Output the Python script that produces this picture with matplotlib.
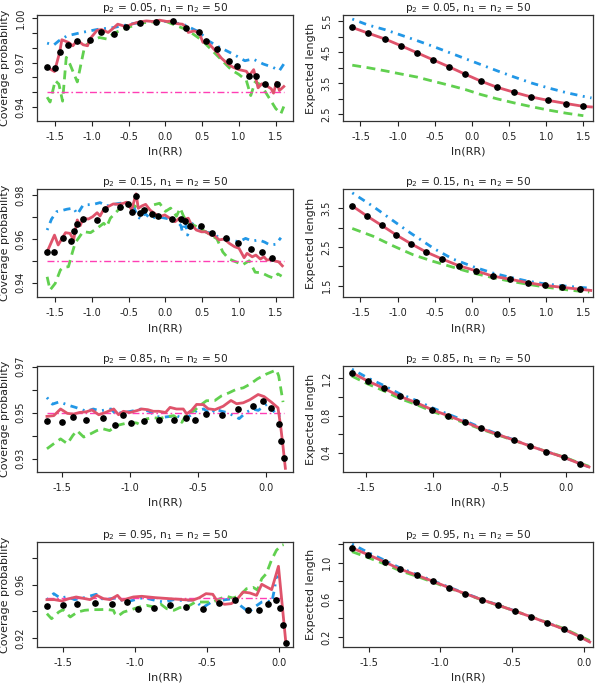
import matplotlib
matplotlib.use("Agg")
import matplotlib.pyplot as plt

plt.rcParams['font.family'] = ['DejaVu Sans']
plt.rcParams['axes.unicode_minus'] = False
plt.rcParams['mathtext.default'] = 'regular'

RED = "#DF536B"
GREEN = "#61D04F"
BLUE = "#2297E6"
PINK = "#FF3EB5"

# ---------------- p2 = 0.05 : coverage ----------------
cov05_red_x = [-1.61,-1.51,-1.44,-1.41,-1.32,-1.26,-1.20,-1.12,-1.06,-1.03,-0.93,-0.87,-0.78,-0.71,-0.65,
               -0.60,-0.54,-0.46,-0.39,-0.32,-0.26,-0.17,-0.08,0.02,0.11,0.15,0.23,0.29,0.31,0.39,
               0.46,0.51,0.56,0.63,0.70,0.76,0.85,0.92,1.00,1.10,1.14,1.20,1.26,1.31,1.37,
               1.44,1.47,1.51,1.55,1.61]
cov05_red_y = [0.9669,0.9640,0.9769,0.9855,0.9837,0.9814,0.9852,0.9821,0.9814,0.9859,0.9919,0.9924,0.9904,0.9933,0.9960,
               0.9953,0.9942,0.9960,0.9971,0.9978,0.9982,0.9978,0.9987,0.9978,0.9982,0.9964,0.9960,0.9937,0.9904,0.9915,
               0.9899,0.9837,0.9848,0.9807,0.9769,0.9731,0.9691,0.9669,0.9653,0.9642,0.9613,0.9653,0.9530,0.9557,0.9546,
               0.9523,0.9494,0.9568,0.9512,0.9539]
cov05_dot_x = [-1.61,-1.50,-1.44,-1.32,-1.20,-1.03,-0.88,-0.70,-0.54,-0.35,-0.13,0.10,0.28,0.46,0.55,0.70,0.86,0.97,1.14,1.23,1.35,1.52]
cov05_dot_y = [0.9669,0.9662,0.9769,0.9819,0.9848,0.9854,0.9904,0.9893,0.9944,0.9966,0.9978,0.9982,0.9937,0.9910,0.9848,0.9792,0.9713,0.9680,0.9613,0.9613,0.9557,0.9557]
cov05_blue_x = [-1.61,-1.52,-1.45,-1.34,-1.14,-0.91,-0.71,-0.44,-0.21,0.02,0.24,0.47,0.58,0.74,0.92,1.08,1.19,1.33,1.46,1.55,1.61]
cov05_blue_y = [0.9832,0.9819,0.9848,0.9881,0.9904,0.9926,0.9937,0.9964,0.9978,0.9978,0.9960,0.9904,0.9848,0.9803,0.9758,0.9713,0.9725,0.9691,0.9669,0.9646,0.9691]
cov05_green_x = [-1.61,-1.57,-1.50,-1.45,-1.40,-1.35,-1.30,-1.20,-1.10,-1.00,-0.90,-0.80,-0.70,-0.50,-0.30,
                 0.00,0.30,0.50,0.60,0.70,0.80,0.90,1.00,1.10,1.16,1.22,1.30,1.40,1.50,1.57,1.61]
cov05_green_y = [0.9467,0.9434,0.9579,0.9555,0.9440,0.9736,0.9690,0.9570,0.9810,0.9850,0.9870,0.9860,0.9900,0.9940,0.9970,
                 0.9980,0.9920,0.9850,0.9800,0.9750,0.9700,0.9650,0.9620,0.9580,0.9478,0.9570,0.9550,0.9470,0.9390,0.9355,0.9404]

# ---------------- p2 = 0.05 : expected length ----------------
len05_dot_x = [-1.61,-1.40,-1.17,-0.96,-0.74,-0.53,-0.31,-0.09,0.12,0.34,0.57,0.80,1.03,1.27,1.50]
len05_dot_y = [5.29,5.11,4.92,4.71,4.48,4.26,4.03,3.79,3.57,3.37,3.21,3.06,2.95,2.85,2.76]
len05_red_x = [-1.61,-1.40,-1.17,-0.96,-0.74,-0.53,-0.31,-0.09,0.12,0.34,0.57,0.80,1.03,1.27,1.50,1.61]
len05_red_y = [5.29,5.11,4.92,4.71,4.48,4.26,4.03,3.79,3.57,3.37,3.21,3.06,2.95,2.85,2.76,2.74]
len05_blue_x = [-1.61,-1.40,-1.17,-0.96,-0.74,-0.53,-0.31,-0.09,0.12,0.34,0.57,0.80,1.03,1.27,1.50,1.61]
len05_blue_y = [5.56,5.37,5.22,5.05,4.87,4.69,4.49,4.29,4.10,3.90,3.70,3.51,3.35,3.20,3.08,3.03]
len05_green_x = [-1.61,-1.40,-1.17,-0.96,-0.74,-0.53,-0.31,-0.09,0.12,0.34,0.57,0.80,1.03,1.27,1.50]
len05_green_y = [4.08,4.00,3.90,3.80,3.70,3.57,3.44,3.30,3.14,3.00,2.87,2.75,2.64,2.54,2.46]

# ---------------- p2 = 0.15 : coverage ----------------
cov15_red_x = [-1.61,-1.51,-1.46,-1.36,-1.30,-1.25,-1.20,-1.16,-1.12,-1.05,-0.99,-0.93,-0.89,-0.84,-0.78,
               -0.71,-0.64,-0.57,-0.53,-0.46,-0.40,-0.37,-0.32,-0.27,-0.21,-0.15,-0.08,-0.01,0.06,0.13,
               0.19,0.24,0.31,0.35,0.42,0.49,0.55,0.62,0.67,0.73,0.80,0.87,0.94,1.00,1.07,
               1.11,1.18,1.23,1.29,1.34,1.38,1.45,1.49,1.54,1.59]
cov15_red_y = [0.9541,0.9617,0.9572,0.9628,0.9625,0.9595,0.9686,0.9660,0.9694,0.9690,0.9701,0.9719,0.9704,0.9735,0.9747,
               0.9759,0.9757,0.9762,0.9767,0.9732,0.9805,0.9739,0.9750,0.9757,0.9731,0.9716,0.9701,0.9709,0.9694,0.9678,
               0.9694,0.9686,0.9694,0.9666,0.9640,0.9632,0.9632,0.9617,0.9614,0.9595,0.9599,0.9579,0.9564,0.9557,0.9514,
               0.9534,0.9518,0.9526,0.9508,0.9518,0.9503,0.9508,0.9499,0.9495,0.9477]
cov15_dot_x = [-1.61,-1.51,-1.40,-1.29,-1.24,-1.20,-1.12,-0.93,-0.82,-0.62,-0.51,-0.45,-0.40,-0.34,-0.29,
               -0.19,-0.10,0.09,0.21,0.27,0.34,0.49,0.63,0.82,0.99,1.17,1.32,1.45]
cov15_dot_y = [0.9541,0.9541,0.9605,0.9590,0.9636,0.9666,0.9689,0.9686,0.9736,0.9747,0.9759,0.9722,0.9795,0.9719,0.9730,
               0.9713,0.9705,0.9690,0.9690,0.9681,0.9660,0.9660,0.9625,0.9605,0.9579,0.9552,0.9541,0.9511]
cov15_blue_x = [-1.61,-1.55,-1.48,-1.42,-1.34,-1.25,-1.20,-1.12,-0.98,-0.89,-0.80,-0.66,-0.55,-0.44,-0.38,
                -0.33,-0.28,-0.21,-0.10,0.00,0.10,0.18,0.21,0.23,0.27,0.30,0.36,0.45,0.56,0.65,
                0.74,0.86,1.00,1.09,1.18,1.27,1.35,1.42,1.50,1.57]
cov15_blue_y = [0.9640,0.9690,0.9724,0.9728,0.9735,0.9740,0.9712,0.9754,0.9757,0.9765,0.9750,0.9760,0.9765,0.9754,0.9700,
                0.9690,0.9716,0.9694,0.9700,0.9694,0.9686,0.9671,0.9660,0.9632,0.9680,0.9617,0.9670,0.9650,0.9630,0.9625,
                0.9602,0.9595,0.9587,0.9602,0.9590,0.9595,0.9585,0.9572,0.9575,0.9605]
cov15_green_x = [-1.61,-1.57,-1.50,-1.43,-1.39,-1.32,-1.27,-1.23,-1.20,-1.12,-1.02,-0.93,-0.84,-0.80,-0.75,
                 -0.62,-0.53,-0.44,-0.35,-0.26,-0.17,-0.08,0.00,0.07,0.15,0.20,0.25,0.28,0.33,0.43,
                 0.59,0.70,0.78,0.86,1.05,1.14,1.22,1.31,1.40,1.47,1.53,1.58]
cov15_green_y = [0.9427,0.9367,0.9397,0.9458,0.9470,0.9473,0.9534,0.9580,0.9595,0.9633,0.9628,0.9648,0.9671,0.9655,0.9694,
                 0.9739,0.9754,0.9754,0.9735,0.9730,0.9754,0.9762,0.9725,0.9740,0.9703,0.9740,0.9700,0.9688,0.9670,0.9655,
                 0.9623,0.9600,0.9540,0.9509,0.9482,0.9500,0.9448,0.9445,0.9430,0.9421,0.9440,0.9430]

# ---------------- p2 = 0.15 : expected length ----------------
len15_dot_x = [-1.608,-1.411,-1.214,-1.016,-0.814,-0.613,-0.398,-0.179,0.050,0.278,0.514,0.749,0.980,1.215,1.455]
len15_dot_y = [3.56,3.30,3.06,2.81,2.58,2.37,2.19,2.02,1.89,1.75,1.67,1.58,1.51,1.46,1.41]
len15_red_x = [-1.608,-1.411,-1.214,-1.016,-0.814,-0.613,-0.398,-0.179,0.050,0.278,0.514,0.749,0.980,1.215,1.455,1.60]
len15_red_y = [3.56,3.30,3.06,2.81,2.58,2.37,2.19,2.02,1.89,1.75,1.67,1.58,1.51,1.46,1.41,1.38]
len15_blue_x = [-1.61,-1.33,-1.075,-0.824,-0.51,-0.255,0.036,0.28,0.51,0.75,0.98,1.21,1.45,1.58]
len15_blue_y = [3.90,3.55,3.20,2.86,2.46,2.19,1.98,1.83,1.72,1.62,1.55,1.50,1.46,1.44]
len15_green_x = [-1.61,-1.33,-1.06,-0.79,-0.52,-0.255,0.013,0.28,0.51,0.75,0.98,1.21,1.45,1.58]
len15_green_y = [2.98,2.78,2.53,2.30,2.13,1.98,1.83,1.71,1.62,1.54,1.47,1.41,1.36,1.34]

# ---------------- p2 = 0.85 : coverage ----------------
cov85_red_x = [-1.61,-1.56,-1.51,-1.46,-1.415,-1.37,-1.32,-1.28,-1.23,-1.18,-1.12,-1.085,-1.05,-1.00,-0.95,
               -0.915,-0.87,-0.83,-0.79,-0.74,-0.707,-0.66,-0.61,-0.585,-0.549,-0.512,-0.463,-0.427,-0.378,-0.317,
               -0.26,-0.219,-0.17,-0.122,-0.061,-0.017,0.036,0.085,0.105,0.122,0.139]
cov85_red_y = [0.9484,0.9487,0.9516,0.9497,0.9494,0.9501,0.9504,0.9512,0.9491,0.9501,0.9516,0.9491,0.9506,0.9501,0.9509,
               0.9516,0.9513,0.9506,0.9506,0.9501,0.9523,0.9516,0.9516,0.9495,0.9510,0.9536,0.9535,0.9517,0.9513,0.9528,
               0.9553,0.9539,0.9543,0.9556,0.9579,0.9570,0.9546,0.9521,0.9438,0.9352,0.9258]
cov85_dot_x = [-1.61,-1.50,-1.42,-1.32,-1.20,-1.11,-1.054,-0.995,-0.895,-0.788,-0.678,-0.593,-0.524,-0.444,-0.324,
               -0.212,-0.097,-0.024,0.036,0.090,0.110,0.129]
cov85_dot_y = [0.9465,0.9461,0.9480,0.9468,0.9476,0.9445,0.9490,0.9457,0.9465,0.9468,0.9468,0.9477,0.9467,0.9493,0.9491,
               0.9514,0.9529,0.9550,0.9520,0.9452,0.9377,0.9301]
cov85_blue_x = [-1.61,-1.57,-1.52,-1.44,-1.40,-1.32,-1.27,-1.22,-1.14,-1.10,-1.07,-1.02,-0.97,-0.92,-0.86,
                -0.805,-0.76,-0.70,-0.66,-0.61,-0.56,-0.51,-0.46,-0.41,-0.37,-0.33,-0.29,-0.24,-0.20,-0.15,
                -0.10,-0.06,0.012,0.04,0.08,0.11]
cov85_blue_y = [0.9566,0.9537,0.9547,0.9530,0.9523,0.9506,0.9516,0.9508,0.9516,0.9491,0.9500,0.9503,0.9509,0.9516,0.9506,
                0.9483,0.9480,0.9484,0.9487,0.9473,0.9487,0.9509,0.9516,0.9495,0.9516,0.9506,0.9501,0.9487,0.9474,0.9501,
                0.9516,0.9510,0.9541,0.9516,0.9487,0.9488]
cov85_green_x = [-1.61,-1.56,-1.51,-1.46,-1.42,-1.39,-1.34,-1.29,-1.244,-1.20,-1.15,-1.10,-1.05,-1.00,-0.95,
                 -0.915,-0.88,-0.83,-0.78,-0.73,-0.68,-0.62,-0.58,-0.536,-0.49,-0.44,-0.378,-0.33,-0.276,-0.22,
                 -0.17,-0.12,-0.066,0.00,0.049,0.073,0.09,0.11,0.122]
cov85_green_y = [0.9343,0.9365,0.9386,0.9365,0.9401,0.9422,0.9394,0.9408,0.9422,0.9430,0.9422,0.9444,0.9451,0.9458,0.9455,
                 0.9444,0.9473,0.9478,0.9475,0.9483,0.9487,0.9458,0.9501,0.9506,0.9530,0.9552,0.9553,0.9573,0.9586,0.9602,
                 0.9608,0.9624,0.9647,0.9668,0.9680,0.9686,0.9660,0.9589,0.9546]

# ---------------- p2 = 0.85 : expected length ----------------
len85_dot_x = [-1.608,-1.488,-1.37,-1.25,-1.13,-1.005,-0.885,-0.763,-0.643,-0.518,-0.395,-0.27,-0.15,-0.02,0.10]
len85_dot_y = [1.262,1.171,1.095,1.008,0.943,0.863,0.798,0.733,0.664,0.599,0.538,0.472,0.414,0.353,0.284]
len85_red_x = [-1.608,-1.488,-1.37,-1.25,-1.13,-1.005,-0.885,-0.763,-0.643,-0.518,-0.395,-0.27,-0.15,-0.02,0.10,0.17]
len85_red_y = [1.262,1.171,1.095,1.008,0.943,0.863,0.798,0.733,0.664,0.599,0.538,0.472,0.414,0.353,0.284,0.248]
len85_blue_x = [-1.608,-1.488,-1.37,-1.25,-1.13,-1.005,-0.885,-0.763,-0.643,-0.518,-0.395,-0.27,-0.15,-0.02,0.10,0.17]
len85_blue_y = [1.300,1.205,1.125,1.035,0.966,0.884,0.815,0.746,0.673,0.605,0.541,0.474,0.415,0.354,0.285,0.249]
len85_green_x = [-1.608,-1.488,-1.37,-1.25,-1.13,-1.005,-0.885,-0.763,-0.643,-0.518,-0.395,-0.27,-0.15,-0.02,0.10,0.17]
len85_green_y = [1.225,1.140,1.068,0.985,0.922,0.846,0.785,0.722,0.657,0.594,0.535,0.471,0.415,0.356,0.290,0.255]

# ---------------- p2 = 0.95 : coverage ----------------
cov95_red_x = [-1.612,-1.56,-1.508,-1.46,-1.409,-1.312,-1.266,-1.219,-1.173,-1.122,-1.092,-1.012,-0.954,-0.861,-0.757,
               -0.665,-0.60,-0.553,-0.507,-0.46,-0.425,-0.378,-0.332,-0.297,-0.25,-0.203,-0.156,-0.12,-0.086,-0.051,
               -0.004,0.048]
cov95_red_y = [0.9488,0.9488,0.9478,0.9495,0.9508,0.9488,0.9520,0.9495,0.9488,0.9520,0.9483,0.9508,0.9513,0.9503,0.9495,
               0.9488,0.9483,0.9503,0.9533,0.9528,0.9470,0.9453,0.9458,0.9483,0.9545,0.9538,0.9520,0.9603,0.9583,0.9563,
               0.9738,0.9158]
cov95_dot_x = [-1.612,-1.503,-1.40,-1.277,-1.162,-1.055,-0.977,-0.866,-0.757,-0.649,-0.528,-0.416,-0.306,-0.213,-0.136,
               -0.077,-0.019,0.009,0.028,0.047]
cov95_dot_y = [0.9438,0.9445,0.9453,0.9465,0.9453,0.9470,0.9415,0.9428,0.9448,0.9430,0.9415,0.9463,0.9483,0.9413,0.9413,
               0.9453,0.9488,0.9425,0.9295,0.9165]
cov95_blue_x = [-1.612,-1.565,-1.52,-1.47,-1.42,-1.38,-1.27,-1.22,-1.13,-1.06,-1.00,-0.94,-0.85,-0.80,-0.73,
                -0.66,-0.59,-0.53,-0.47,-0.37,-0.32,-0.27,-0.21,-0.16,-0.12,-0.08,-0.05,-0.03,-0.02,0.00]
cov95_blue_y = [0.9488,0.9533,0.9500,0.9510,0.9488,0.9495,0.9528,0.9488,0.9500,0.9470,0.9488,0.9503,0.9480,0.9470,0.9488,
                0.9480,0.9488,0.9428,0.9470,0.9488,0.9495,0.9445,0.9395,0.9440,0.9470,0.9478,0.9470,0.9575,0.9658,0.9660]
cov95_green_x = [-1.612,-1.58,-1.53,-1.50,-1.45,-1.40,-1.35,-1.30,-1.25,-1.20,-1.15,-1.14,-1.12,-1.08,-1.04,
                 -0.97,-0.92,-0.87,-0.82,-0.78,-0.73,-0.69,-0.64,-0.58,-0.46,-0.41,-0.365,-0.32,-0.27,-0.226,
                 -0.18,-0.15,-0.12,-0.088,-0.053,-0.018,0.016,0.032]
cov95_green_y = [0.9383,0.9345,0.9395,0.9413,0.9358,0.9395,0.9408,0.9413,0.9413,0.9415,0.9408,0.9383,0.9363,0.9395,0.9408,
                 0.9433,0.9445,0.9433,0.9453,0.9420,0.9408,0.9428,0.9433,0.9470,0.9470,0.9495,0.9513,0.9500,0.9520,0.9570,
                 0.9580,0.9560,0.9645,0.9683,0.9783,0.9858,0.9895,0.9900]

# ---------------- p2 = 0.95 : expected length ----------------
len95_dot_x = [-1.616,-1.505,-1.388,-1.284,-1.163,-1.051,-0.940,-0.826,-0.712,-0.595,-0.481,-0.365,-0.253,-0.137,-0.023]
len95_dot_y = [1.158,1.086,1.007,0.932,0.864,0.799,0.731,0.666,0.602,0.541,0.480,0.415,0.351,0.283,0.200]
len95_red_x = [-1.616,-1.505,-1.388,-1.284,-1.163,-1.051,-0.940,-0.826,-0.712,-0.595,-0.481,-0.365,-0.253,-0.137,-0.023,0.042]
len95_red_y = [1.158,1.086,1.007,0.932,0.864,0.799,0.731,0.666,0.602,0.541,0.480,0.415,0.351,0.283,0.200,0.146]
len95_blue_x = [-1.616,-1.505,-1.388,-1.284,-1.163,-1.051,-0.940,-0.826,-0.712,-0.595,-0.481,-0.365,-0.253,-0.137,-0.023,0.042]
len95_blue_y = [1.200,1.110,1.025,0.945,0.872,0.805,0.736,0.669,0.604,0.543,0.481,0.416,0.352,0.284,0.201,0.150]
len95_green_x = [-1.616,-1.505,-1.388,-1.284,-1.163,-1.051,-0.940,-0.826,-0.712,-0.595,-0.481,-0.365,-0.253,-0.137,-0.023,0.042]
len95_green_y = [1.118,1.055,0.985,0.915,0.852,0.790,0.726,0.663,0.600,0.540,0.480,0.417,0.355,0.290,0.208,0.160]

TITLES = [r"p$_2$ = 0.05, n$_1$ = n$_2$ = 50", r"p$_2$ = 0.15, n$_1$ = n$_2$ = 50",
          r"p$_2$ = 0.85, n$_1$ = n$_2$ = 50", r"p$_2$ = 0.95, n$_1$ = n$_2$ = 50"]
XLABEL = "ln(RR)"
YLAB_COV = "Coverage probability"
YLAB_LEN = "Expected length"
NOMINAL = 0.95

W, H = 600, 685
fig = plt.figure(figsize=(W / 100, H / 100), dpi=100)

ROWS = [(15, 121), (189, 297), (366, 472), (542, 647)]
LEFT_COL = (37, 293)
RIGHT_COL = (343, 593)


def make_axes(col, row):
    l, r = col
    t, b = row
    return fig.add_axes([l / W, 1 - b / H, (r - l) / W, (b - t) / H])


def style(ax, title, ylabel, xlim, ylim, xticks, xlabels, yticks, ylabels, right):
    ax.set_xlim(*xlim)
    ax.set_ylim(*ylim)
    ax.set_xticks(xticks)
    ax.set_xticklabels(xlabels)
    ax.set_yticks(yticks)
    ax.set_yticklabels(ylabels, rotation=90, va='center')
    ax.tick_params(direction='out', length=3.6, width=0.8, labelsize=7, pad=4.5,
                   colors='#222222')
    for s in ax.spines.values():
        s.set_linewidth(0.9)
        s.set_color('#333333')
    ax.set_title(title, fontsize=7.6, pad=2.5, color='#222222')
    ax.set_xlabel(XLABEL, fontsize=8, color='#222222')
    ax.xaxis.set_label_coords(0.5, -0.245)
    ax.set_ylabel(ylabel, fontsize=8, color='#222222')
    ax.yaxis.set_label_coords(-0.11 if right else -0.107, 0.5)


def draw(ax, red, dot, blue, green, ref=None):
    ax.plot(blue[0], blue[1], color=BLUE, lw=2, dashes=(0.7, 2.0, 2.6, 2.0), zorder=2)
    ax.plot(green[0], green[1], color=GREEN, lw=2, dashes=(3.2, 2.0), zorder=2)
    if ref is not None:
        ax.plot(ref, [NOMINAL, NOMINAL], color=PINK, lw=1, dashes=(5, 2, 1.2, 2), zorder=3)
    ax.plot(red[0], red[1], color=RED, lw=2, zorder=4)
    ax.plot(dot[0], dot[1], 'o', color='black', ms=3.8, zorder=5)


full_x = [-1.5, -1.0, -0.5, 0.0, 0.5, 1.0, 1.5]
full_xl = ["-1.5", "-1.0", "-0.5", "0.0", "0.5", "1.0", "1.5"]
half_x = [-1.5, -1.0, -0.5, 0.0]
half_xl = ["-1.5", "-1.0", "-0.5", "0.0"]

# Row 1
ax = make_axes(LEFT_COL, ROWS[0])
draw(ax, (cov05_red_x, cov05_red_y), (cov05_dot_x, cov05_dot_y), (cov05_blue_x, cov05_blue_y),
     (cov05_green_x, cov05_green_y), ref=[-1.61, 1.61])
style(ax, TITLES[0], YLAB_COV, (-1.748, 1.735), (0.9306, 1.0022), full_x, full_xl,
      [0.94, 0.95, 0.96, 0.97, 0.98, 0.99, 1.00], ["0.94", "", "", "0.97", "", "", "1.00"], False)

ax = make_axes(RIGHT_COL, ROWS[0])
draw(ax, (len05_red_x, len05_red_y), (len05_dot_x, len05_dot_y), (len05_blue_x, len05_blue_y),
     (len05_green_x, len05_green_y))
style(ax, TITLES[0], YLAB_LEN, (-1.735, 1.63), (2.29, 5.69), full_x, full_xl,
      [2.5, 3.0, 3.5, 4.0, 4.5, 5.0, 5.5], ["2.5", "", "3.5", "", "4.5", "", "5.5"], True)

# Row 2
ax = make_axes(LEFT_COL, ROWS[1])
draw(ax, (cov15_red_x, cov15_red_y), (cov15_dot_x, cov15_dot_y), (cov15_blue_x, cov15_blue_y),
     (cov15_green_x, cov15_green_y), ref=[-1.61, 1.61])
style(ax, TITLES[1], YLAB_COV, (-1.748, 1.735), (0.9335, 0.9827), full_x, full_xl,
      [0.94, 0.95, 0.96, 0.97, 0.98], ["0.94", "", "0.96", "", "0.98"], False)

ax = make_axes(RIGHT_COL, ROWS[1])
draw(ax, (len15_red_x, len15_red_y), (len15_dot_x, len15_dot_y), (len15_blue_x, len15_blue_y),
     (len15_green_x, len15_green_y))
style(ax, TITLES[1], YLAB_LEN, (-1.735, 1.63), (1.21, 4.0), full_x, full_xl,
      [1.5, 2.0, 2.5, 3.0, 3.5], ["1.5", "", "2.5", "", "3.5"], True)

# Row 3
ax = make_axes(LEFT_COL, ROWS[2])
draw(ax, (cov85_red_x, cov85_red_y), (cov85_dot_x, cov85_dot_y), (cov85_blue_x, cov85_blue_y),
     (cov85_green_x, cov85_green_y), ref=[-1.61, 0.127])
style(ax, TITLES[2], YLAB_COV, (-1.683, 0.195), (0.9242, 0.9703), half_x, half_xl,
      [0.93, 0.94, 0.95, 0.96, 0.97], ["0.93", "", "0.95", "", "0.97"], False)

ax = make_axes(RIGHT_COL, ROWS[2])
draw(ax, (len85_red_x, len85_red_y), (len85_dot_x, len85_dot_y), (len85_blue_x, len85_blue_y),
     (len85_green_x, len85_green_y))
style(ax, TITLES[2], YLAB_LEN, (-1.675, 0.2), (0.194, 1.334), half_x, half_xl,
      [0.4, 0.6, 0.8, 1.0, 1.2], ["0.4", "", "0.8", "", "1.2"], True)

# Row 4
ax = make_axes(LEFT_COL, ROWS[3])
draw(ax, (cov95_red_x, cov95_red_y), (cov95_dot_x, cov95_dot_y), (cov95_blue_x, cov95_blue_y),
     (cov95_green_x, cov95_green_y), ref=[-1.61, 0.03])
style(ax, TITLES[3], YLAB_COV, (-1.681, 0.097), (0.9133, 0.992), half_x, half_xl,
      [0.92, 0.94, 0.96, 0.98], ["0.92", "", "0.96", ""], False)

ax = make_axes(RIGHT_COL, ROWS[3])
draw(ax, (len95_red_x, len95_red_y), (len95_dot_x, len95_dot_y), (len95_blue_x, len95_blue_y),
     (len95_green_x, len95_green_y))
style(ax, TITLES[3], YLAB_LEN, (-1.679, 0.065), (0.092, 1.222), half_x, half_xl,
      [0.2, 0.4, 0.6, 0.8, 1.0, 1.2], ["0.2", "", "0.6", "", "1.0", ""], True)

fig.savefig("out.png", dpi=100)
